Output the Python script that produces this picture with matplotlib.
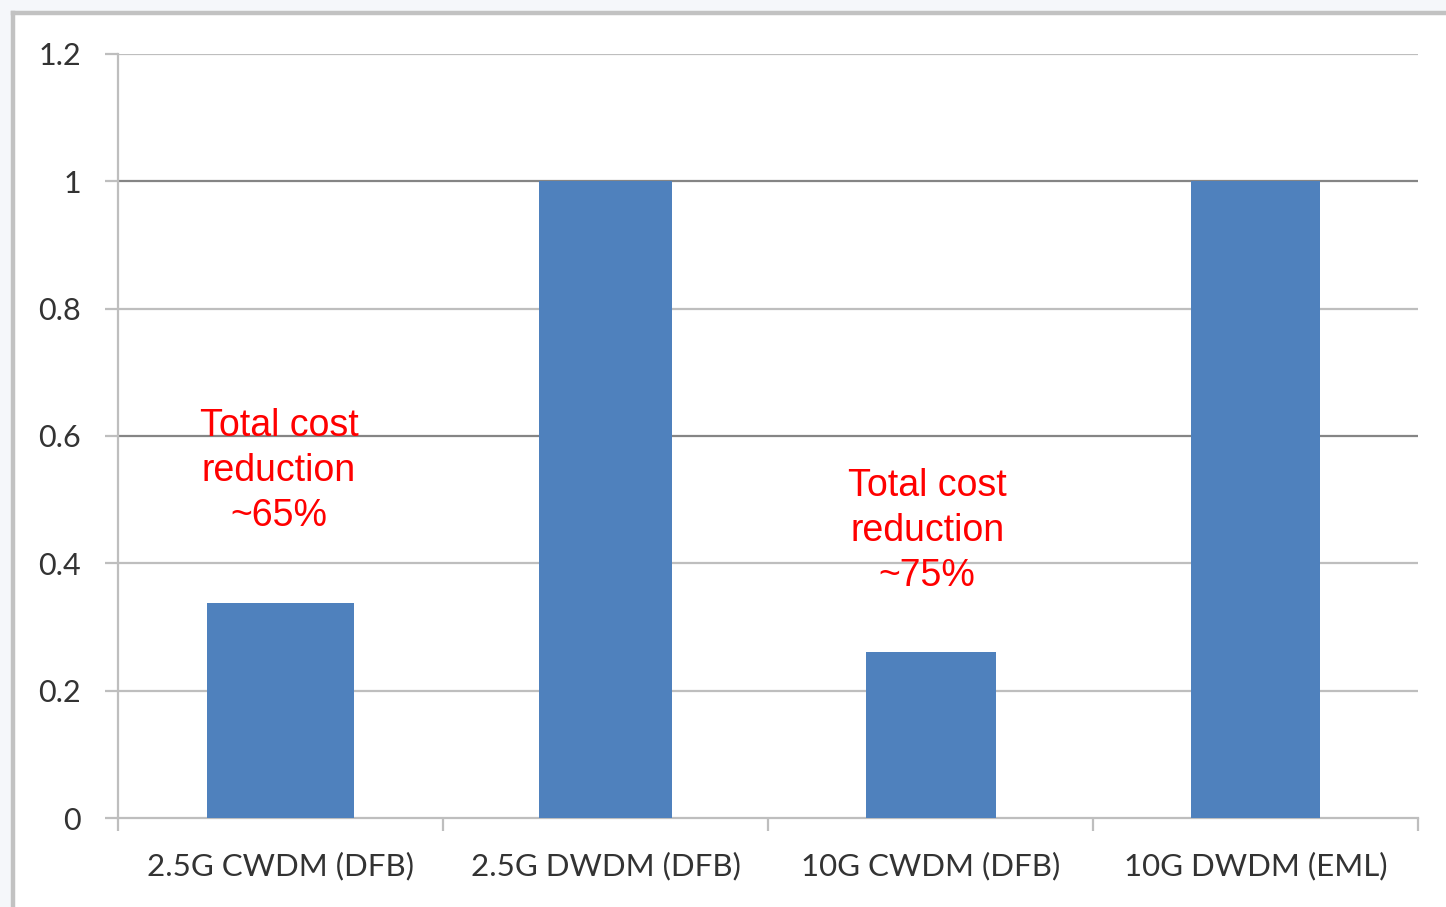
import matplotlib
matplotlib.use("Agg")
import matplotlib.pyplot as plt
from matplotlib.lines import Line2D
from matplotlib.patches import Rectangle

# Relative cost per technology (normalised to DWDM = 1)
categories = ["2.5G CWDM (DFB)", "2.5G DWDM (DFB)", "10G CWDM (DFB)", "10G DWDM (EML)"]
relative_cost = [0.337, 1.0, 0.26, 1.0]
y_ticks = [0, 0.2, 0.4, 0.6, 0.8, 1.0, 1.2]
y_tick_labels = ["0", "0.2", "0.4", "0.6", "0.8", "1", "1.2"]
notes = ["Total cost\nreduction\n~65%", "Total cost\nreduction\n~75%"]
note_x = [-0.005, 1.99]
note_y = [0.545, 0.451]

bar_widths = [0.455, 0.41, 0.40, 0.395]
bar_color = "#4F81BD"
light_grid = "#BEBEBE"
dark_grid = "#858585"
dark_levels = {0.6, 1.0}

W, H, DPI = 1446, 907, 100
fig = plt.figure(figsize=(W / DPI, H / DPI), dpi=DPI, facecolor="#F5F7FA")

# white panel with grey frame on top and left
panel = Rectangle((12.5 / W, 0), 1, (H - 12.5) / H,
                  transform=fig.transFigure, facecolor="white",
                  edgecolor="none", zorder=-10)
fig.patches.append(panel)
fig.lines.append(Line2D([12.5 / W, 1], [(H - 12.5) / H] * 2,
                        transform=fig.transFigure, color="#C2C2C2", lw=3.2,
                        zorder=-5))
fig.lines.append(Line2D([12.5 / W] * 2, [0, (H - 12.5) / H],
                        transform=fig.transFigure, color="#C2C2C2", lw=3.2,
                        zorder=-5))

ax = fig.add_axes([118 / W, (H - 818) / H, (1418 - 118) / W, (818 - 54) / H])
ax.set_zorder(1)
ax.patch.set_alpha(0)

x = list(range(len(categories)))
ax.bar(x, relative_cost, width=bar_widths, color=bar_color, zorder=3)

ax.set_xlim(-0.5, len(categories) - 0.5)
ax.set_ylim(0, 1.2)

for yv in y_ticks:
    if yv == 0:
        continue
    ax.axhline(yv, color=dark_grid if yv in dark_levels else light_grid,
               lw=1.6, zorder=1)

for side in ["top", "right"]:
    ax.spines[side].set_visible(False)
for side in ["left", "bottom"]:
    ax.spines[side].set_color(light_grid)
    ax.spines[side].set_linewidth(1.6)

y_font = dict(family=["Lato", "DejaVu Sans"], size=22, color="#333333")
x_font = dict(family=["Lato", "DejaVu Sans"], size=22.5, color="#333333")

ax.set_yticks(y_ticks)
ax.set_yticklabels(y_tick_labels, **y_font)
ax.tick_params(axis="y", direction="out", length=9.5, width=1.6,
               color=light_grid, pad=17)

ax.set_xticks([i - 0.5 for i in range(len(categories) + 1)])
ax.set_xticklabels([])
ax.tick_params(axis="x", which="major", direction="out", length=9,
               width=1.6, color=light_grid)
ax.set_xticks(x, minor=True)
ax.set_xticklabels(categories, minor=True, **x_font)
ax.tick_params(axis="x", which="minor", length=0, pad=24)

for txt, tx, ty in zip(notes, note_x, note_y):
    ax.text(tx, ty, txt, ha="center", va="center", color="red",
            fontsize=27, family=["Liberation Sans", "DejaVu Sans"],
            linespacing=1.31, zorder=4)

fig.savefig("out.png", dpi=DPI, facecolor=fig.get_facecolor())
